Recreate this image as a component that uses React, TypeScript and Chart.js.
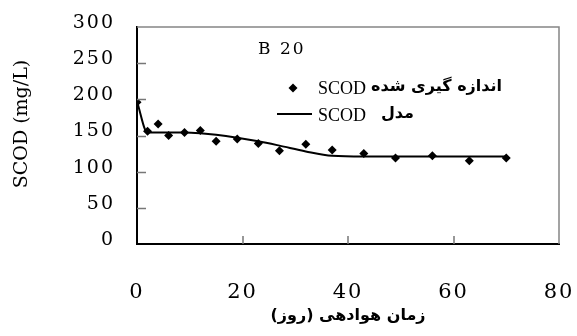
import React, { useEffect, useRef } from "react";
import { Chart, registerables } from "chart.js";

Chart.register(...registerables);

// ---- data ----
const days = [0, 2, 4, 6, 9, 12, 15, 19, 23, 27, 32, 37, 43, 49, 56, 63, 70];
const measuredScod = [196, 156, 166, 150, 154, 157, 142, 145, 139, 129, 138, 130, 125, 119, 122, 115, 119];
const modelScod = [197, 154, 154, 154, 154, 153, 151, 147, 142, 136, 128, 122, 121, 121, 121, 121, 121];
const xTicks = [0, 20, 40, 60, 80];
const yTicks = [0, 50, 100, 150, 200, 250, 300];

const measuredLabel = "اندازه گیری شده";
const modelLabel = "مدل";
const seriesPrefix = "SCOD";
const panelLabel = "B 20";
const xTitle = "زمان هوادهی (روز)\u200F";
const yTitle = "SCOD (mg/L)";

const SERIF = "'DejaVu Serif', serif";
const PERSIAN = "'DejaVu Sans', sans-serif";

const zeroPad = (s: any) => {
  s.paddingLeft = 0;
  s.paddingRight = 0;
  s.paddingTop = 0;
  s.paddingBottom = 0;
};

const decorPlugin = {
  id: "decor",
  beforeDraw(chart: any) {
    chart.ctx.letterSpacing = "2px";
  },
  afterDatasetsDraw(chart: any) {
    const { ctx, chartArea } = chart;
    const { left, right, top, bottom } = chartArea;
    const xs = chart.scales.x;
    const ys = chart.scales.y;
    ctx.save();
    ctx.strokeStyle = "#858585";
    ctx.lineWidth = 1.5;
    ctx.beginPath();
    ctx.moveTo(left, top);
    ctx.lineTo(right, top);
    ctx.lineTo(right, bottom);
    ctx.stroke();
    ctx.strokeStyle = "#777";
    ctx.lineWidth = 1.5;
    ctx.beginPath();
    for (const v of yTicks.slice(1, -1)) {
      const py = Math.round(ys.getPixelForValue(v)) + 0.5;
      ctx.moveTo(left, py);
      ctx.lineTo(left + 9, py);
    }
    for (const v of xTicks.slice(1, -1)) {
      const px = Math.round(xs.getPixelForValue(v));
      ctx.moveTo(px, bottom);
      ctx.lineTo(px, bottom - 8);
    }
    ctx.stroke();
    ctx.restore();
  },
  afterDraw(chart: any) {
    const { ctx, chartArea } = chart;
    ctx.save();
    ctx.fillStyle = "#000";
    ctx.strokeStyle = "#000";
    ctx.letterSpacing = "0px";

    ctx.save();
    ctx.translate(22, 124);
    ctx.rotate(-Math.PI / 2);
    ctx.font = `19px ${SERIF}`;
    ctx.textAlign = "center";
    ctx.textBaseline = "middle";
    ctx.fillText(yTitle, 0, 0);
    ctx.restore();

    ctx.save();
    ctx.font = `bold 16px ${PERSIAN}`;
    ctx.textAlign = "center";
    ctx.textBaseline = "middle";
    ctx.fillText(xTitle, (chartArea.left + chartArea.right) / 2, 316);
    ctx.restore();

    ctx.letterSpacing = "2px";
    ctx.font = `17px ${SERIF}`;
    ctx.textAlign = "left";
    ctx.textBaseline = "middle";
    ctx.fillText(panelLabel, 258, 50);

    ctx.letterSpacing = "0px";
    const mx = 293, my = 88, r = 4.5;
    ctx.beginPath();
    ctx.moveTo(mx, my - r);
    ctx.lineTo(mx + r, my);
    ctx.lineTo(mx, my + r);
    ctx.lineTo(mx - r, my);
    ctx.closePath();
    ctx.fill();
    ctx.lineWidth = 2;
    ctx.beginPath();
    ctx.moveTo(277, 114);
    ctx.lineTo(312, 114);
    ctx.stroke();

    ctx.font = `18px 'Liberation Serif', serif`;
    ctx.textAlign = "left";
    ctx.fillText(seriesPrefix, 318, 89);
    ctx.fillText(seriesPrefix, 318, 116);
    ctx.font = `bold 16px ${PERSIAN}`;
    ctx.direction = "rtl";
    ctx.textAlign = "right";
    ctx.fillText(measuredLabel, 502, 87);
    ctx.fillText(modelLabel, 414, 114);
    ctx.restore();
  },
};

export default function App() {
  const ref = useRef<HTMLCanvasElement | null>(null);
  useEffect(() => {
    document.body.style.margin = "0";
    const canvas = ref.current!;
    const chart = new Chart(canvas, {
      type: "scatter",
      data: {
        datasets: [
          {
            label: "measured",
            data: days.map((d, i) => ({ x: d, y: measuredScod[i] })),
            pointStyle: "rectRot",
            pointRadius: 4.5,
            backgroundColor: "#000",
            borderColor: "#000",
            borderWidth: 0,
            showLine: false,
            order: 1,
          },
          {
            label: "model",
            data: days.map((d, i) => ({ x: d, y: modelScod[i] })),
            showLine: true,
            borderColor: "#000",
            borderWidth: 2,
            pointRadius: 0,
            cubicInterpolationMode: "monotone",
            order: 2,
          } as any,
        ],
      },
      options: {
        animation: false,
        responsive: false,
        devicePixelRatio: 1,
        layout: { padding: { top: 27, right: 18, left: 0, bottom: 0 } },
        plugins: { legend: { display: false }, tooltip: { enabled: false } },
        scales: {
          x: {
            type: "linear",
            min: 0,
            max: 80,
            afterBuildTicks: (s: any) => {
              s.ticks = xTicks.map((v) => ({ value: v }));
            },
            afterFit: (s: any) => {
              s.height = 92;
              zeroPad(s);
            },
            grid: { display: true, drawOnChartArea: false, drawTicks: false },
            border: { display: true, color: "#000", width: 2 },
            ticks: {
              padding: 36,
              color: "#000",
              font: { family: SERIF, size: 21 },
              maxRotation: 0,
            },
          },
          y: {
            type: "linear",
            min: 0,
            max: 300,
            afterBuildTicks: (s: any) => {
              s.ticks = yTicks.map((v) => ({ value: v }));
            },
            afterFit: (s: any) => {
              s.width = 137;
              zeroPad(s);
            },
            grid: { display: true, drawOnChartArea: false, drawTicks: false },
            border: { display: true, color: "#000", width: 2 },
            ticks: {
              padding: 22,
              labelOffset: -4,
              color: "#000",
              font: { family: SERIF, size: 19 },
            },
          },
        },
      },
      plugins: [decorPlugin],
    });
    return () => chart.destroy();
  }, []);
  return (
    <div style={{ position: "fixed", left: 0, top: 0, width: 577, height: 336, background: "#fff" }}>
      <canvas ref={ref} width={577} height={336} />
    </div>
  );
}
